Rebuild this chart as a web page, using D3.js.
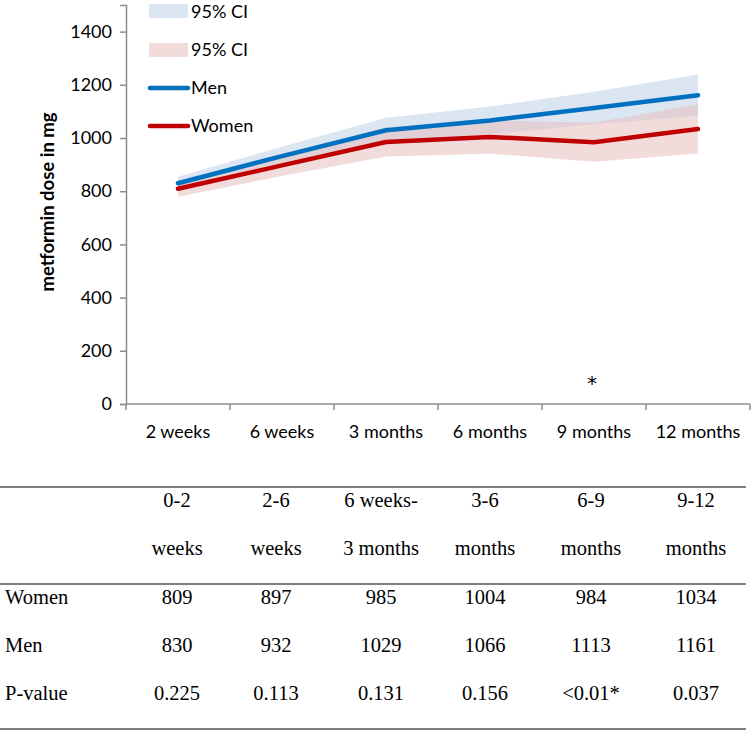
<!DOCTYPE html>
<html>
<head>
<meta charset="utf-8">
<script src="https://cdn.jsdelivr.net/npm/d3@7"></script>
<style>
  body { margin: 0; background: #fff; }
  svg { display: block; }
</style>
</head>
<body>
<div id="chart"></div>
<script>
// chart data
var timepoints = ["2 weeks", "6 weeks", "3 months", "6 months", "9 months", "12 months"];
var menDose = [830, 932, 1029, 1066, 1113, 1161];
var womenDose = [809, 897, 985, 1004, 984, 1034];
var menLower = [806, 897, 982, 1014, 1052, 1083];
var menUpper = [854, 967, 1076, 1118, 1174, 1239];
var womenLower = [779, 857, 930, 941, 911, 942];
var womenUpper = [839, 937, 1040, 1067, 1057, 1126];
var yTicks = [0, 200, 400, 600, 800, 1000, 1200, 1400];

// table data
var periodTop = ["0-2", "2-6", "6 weeks-", "3-6", "6-9", "9-12"];
var periodBottom = ["weeks", "weeks", "3 months", "months", "months", "months"];
var womenRow = ["809", "897", "985", "1004", "984", "1034"];
var menRow = ["830", "932", "1029", "1066", "1113", "1161"];
var pRow = ["0.225", "0.113", "0.131", "0.156", "<0.01*", "0.037"];

var width = 751, height = 731;
var sansFont = "Lato, 'Open Sans', sans-serif";
var serifFont = "'Liberation Serif', 'Times New Roman', serif";
var axisGrey = "#8c8c8c";

var svg = d3.select("#chart").append("svg")
  .attr("width", width)
  .attr("height", height);

// scales
var x = d3.scaleBand().domain(timepoints).range([126, 750]);
var y = d3.scaleLinear().domain([0, 1500]).range([404, 5]);
var cx = function(i) { return x(timepoints[i]) + x.bandwidth() / 2; };

// CI bands
var band = function(lo, hi) {
  return d3.area()
    .x(function(d, i) { return cx(i); })
    .y0(function(d, i) { return y(lo[i]); })
    .y1(function(d, i) { return y(hi[i]); })(timepoints);
};

svg.append("path").attr("d", band(menLower, menUpper))
  .attr("fill", "#b9cde5").attr("fill-opacity", 0.5);
svg.append("path").attr("d", band(womenLower, womenUpper))
  .attr("fill", "#e6b9b8").attr("fill-opacity", 0.5);

// lines
var line = d3.line()
  .x(function(d, i) { return cx(i); })
  .y(function(d) { return y(d); });

svg.append("path").datum(menDose).attr("d", line)
  .attr("fill", "none").attr("stroke", "#0070c0")
  .attr("stroke-width", 4.5).attr("stroke-linecap", "round").attr("stroke-linejoin", "round");
svg.append("path").datum(womenDose).attr("d", line)
  .attr("fill", "none").attr("stroke", "#c00000")
  .attr("stroke-width", 4.5).attr("stroke-linecap", "round").attr("stroke-linejoin", "round");

// y axis
var yAxis = svg.append("g")
  .attr("transform", "translate(126,0)")
  .call(d3.axisLeft(y).tickValues(yTicks).tickSize(6).tickPadding(8).tickFormat(d3.format("d")));
yAxis.select(".domain").attr("stroke", axisGrey).attr("stroke-width", 1.5);
yAxis.selectAll(".tick line").attr("stroke", axisGrey).attr("stroke-width", 1.5);
yAxis.selectAll("text").attr("font-family", sansFont).attr("font-size", 18).attr("fill", "#000");

// x axis with tick marks on the band edges
var xAxis = svg.append("g").attr("transform", "translate(0,404)");
xAxis.append("line").attr("x1", 126).attr("x2", 750)
  .attr("stroke", axisGrey).attr("stroke-width", 1.5);
var edges = timepoints.map(function(t) { return x(t); }).concat([x.range()[1]]);
xAxis.selectAll("line.edge").data(edges).enter().append("line")
  .attr("class", "edge")
  .attr("x1", function(d) { return d; }).attr("x2", function(d) { return d; })
  .attr("y1", 0).attr("y2", 6)
  .attr("stroke", axisGrey).attr("stroke-width", 1.5);
xAxis.selectAll("text").data(timepoints).enter().append("text")
  .attr("x", function(d) { return x(d) + x.bandwidth() / 2; })
  .attr("y", 34)
  .attr("text-anchor", "middle")
  .attr("font-family", sansFont).attr("font-size", 18)
  .text(function(d) { return d; });

// y title
svg.append("text")
  .attr("transform", "translate(54,202) rotate(-90)")
  .attr("text-anchor", "middle")
  .attr("font-family", sansFont).attr("font-size", 18.5).attr("font-weight", "bold")
  .text("metformin dose in mg");

// significance marker at 9 months
svg.append("text")
  .attr("x", cx(4) - 2).attr("y", y(95))
  .attr("dy", "0.55em")
  .attr("text-anchor", "middle")
  .attr("font-family", "'DejaVu Sans', sans-serif").attr("font-size", 20)
  .text("*");

// legend
var legend = svg.append("g").attr("transform", "translate(149,0)");
legend.append("rect").attr("x", 0).attr("y", 4).attr("width", 39).attr("height", 14)
  .attr("fill", "#b9cde5").attr("fill-opacity", 0.5);
legend.append("rect").attr("x", 0).attr("y", 43).attr("width", 39).attr("height", 14)
  .attr("fill", "#e6b9b8").attr("fill-opacity", 0.5);
legend.append("line").attr("x1", 1).attr("x2", 39).attr("y1", 88).attr("y2", 88)
  .attr("stroke", "#0070c0").attr("stroke-width", 4.5).attr("stroke-linecap", "round");
legend.append("line").attr("x1", 1).attr("x2", 39).attr("y1", 126).attr("y2", 126)
  .attr("stroke", "#c00000").attr("stroke-width", 4.5).attr("stroke-linecap", "round");
var legendLabels = [["95% CI", 18], ["95% CI", 56], ["Men", 94], ["Women", 132]];
legend.selectAll("text").data(legendLabels).enter().append("text")
  .attr("x", 42).attr("y", function(d) { return d[1]; })
  .attr("font-family", sansFont).attr("font-size", 18)
  .text(function(d) { return d[0]; });

// table below the chart
var colX = [177, 276, 381, 485, 591, 696];
var table = svg.append("g").attr("font-family", serifFont).attr("font-size", 20.5).attr("fill", "#000");
[487, 584, 729].forEach(function(ly) {
  table.append("line").attr("x1", 0).attr("x2", 746).attr("y1", ly).attr("y2", ly)
    .attr("stroke", "#000").attr("stroke-width", 1.2);
});
var rows = [
  { label: "", values: periodTop, y: 507 },
  { label: "", values: periodBottom, y: 555 },
  { label: "Women", values: womenRow, y: 604 },
  { label: "Men", values: menRow, y: 652 },
  { label: "P-value", values: pRow, y: 700 }
];
rows.forEach(function(r) {
  if (r.label) {
    table.append("text").attr("x", 5).attr("y", r.y).text(r.label);
  }
  r.values.forEach(function(v, i) {
    table.append("text").attr("x", colX[i]).attr("y", r.y)
      .attr("text-anchor", "middle").text(v);
  });
});
</script>
</body>
</html>
